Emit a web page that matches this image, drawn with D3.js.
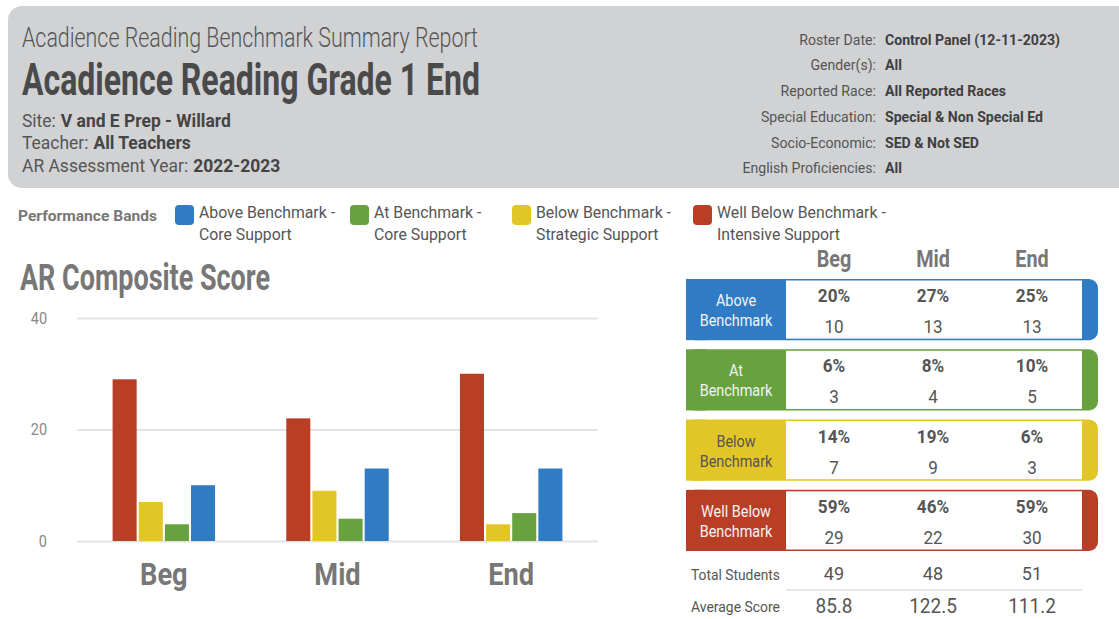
<!DOCTYPE html>
<html>
<head>
<meta charset="utf-8">
<script src="https://cdn.jsdelivr.net/npm/d3@7"></script>
<style>
  body { margin: 0; background: #fff; }
  svg { display: block; font-family: Roboto, "Noto Sans", sans-serif; }
</style>
</head>
<body>
<svg id="report" width="1119" height="619"></svg>
<script>
// --- data ---
const periods = ["Beg", "Mid", "End"];
const bandKeys = ["wellBelow", "below", "at", "above"];      // bar order inside a group
const bandColors = { wellBelow: "#b83f26", below: "#e2c628", at: "#67a23e", above: "#2f7cc4" };

const wellBelowCounts = [29, 22, 30];
const belowCounts = [7, 9, 3];
const atCounts = [3, 4, 5];
const aboveCounts = [10, 13, 13];

const wellBelowPct = ["59%", "46%", "59%"];
const belowPct = ["14%", "19%", "6%"];
const atPct = ["6%", "8%", "10%"];
const abovePct = ["20%", "27%", "25%"];

const totalStudents = ["49", "48", "51"];
const averageScore = ["85.8", "122.5", "111.2"];
const yTicks = [0, 20, 40];

const legendKeys = ["above", "at", "below", "wellBelow"];
const legendNames = [
  ["Above Benchmark -", "Core Support"],
  ["At Benchmark -", "Core Support"],
  ["Below Benchmark -", "Strategic Support"],
  ["Well Below Benchmark -", "Intensive Support"]
];
const tableKeys = ["above", "at", "below", "wellBelow"];
const tableNames = [["Above", "Benchmark"], ["At", "Benchmark"], ["Below", "Benchmark"], ["Well Below", "Benchmark"]];

const metaLabels = ["Roster Date:", "Gender(s):", "Reported Race:", "Special Education:", "Socio-Economic:", "English Proficiencies:"];
const metaValues = ["Control Panel (12-11-2023)", "All", "All Reported Races", "Special & Non Special Ed", "SED & Not SED", "All"];

const counts = { wellBelow: wellBelowCounts, below: belowCounts, at: atCounts, above: aboveCounts };
const pcts = { wellBelow: wellBelowPct, below: belowPct, at: atPct, above: abovePct };

const svg = d3.select("#report");

// text helper: Roboto squeezed a bit to look like the condensed face of the report
function txt(g, x, y, s, o) {
  const t = g.append("text")
    .attr("x", x).attr("y", y).text(s)
    .attr("font-size", o.size)
    .attr("font-weight", o.weight || 400)
    .attr("fill", o.fill || "#555")
    .attr("text-anchor", o.anchor || "start");
  const w = o.len || t.node().getComputedTextLength() * (o.k || 0.86);
  t.attr("textLength", w).attr("lengthAdjust", "spacingAndGlyphs");
  return w;
}

// --- header panel ---
svg.append("rect")
  .attr("x", 8).attr("y", 6).attr("width", 1140).attr("height", 182)
  .attr("rx", 14).attr("fill", "#d1d2d4");

txt(svg, 22, 47, "Acadience Reading Benchmark Summary Report", { size: 27, weight: 300, len: 456, fill: "#555" });
txt(svg, 22, 95, "Acadience Reading Grade 1 End", { size: 44, weight: 700, len: 458, fill: "#4a4a4a" });

const siteLines = [["Site:", "V and E Prep - Willard", 127], ["Teacher:", "All Teachers", 149], ["AR Assessment Year:", "2022-2023", 172]];
siteLines.forEach(([lab, val, yy]) => {
  const w = txt(svg, 22, yy, lab, { size: 18, fill: "#555", k: 0.97 });
  txt(svg, 22 + w + 5, yy, val, { size: 18, weight: 700, fill: "#444", k: 0.97 });
});

const metaY = [45, 70, 96, 122, 148, 173];
metaLabels.forEach((m, i) => {
  txt(svg, 876, metaY[i], m, { size: 15, anchor: "end", fill: "#555", k: 0.94 });
  txt(svg, 885, metaY[i], metaValues[i], { size: 15, weight: 700, fill: "#3f3f3f", k: 0.94 });
});

// --- legend ---
txt(svg, 18, 221, "Performance Bands", { size: 14, weight: 700, fill: "#777", len: 139 });
const legendX = [175, 350, 512, 693];
legendKeys.forEach((k, i) => {
  svg.append("rect")
    .attr("x", legendX[i]).attr("y", 205).attr("width", 19).attr("height", 20)
    .attr("rx", 4).attr("fill", bandColors[k]);
  txt(svg, legendX[i] + 24, 218, legendNames[i][0], { size: 17, fill: "#555", k: 0.93 });
  txt(svg, legendX[i] + 24, 240, legendNames[i][1], { size: 17, fill: "#555", k: 0.93 });
});

// --- bar chart ---
txt(svg, 20, 290, "AR Composite Score", { size: 36, weight: 700, fill: "#777", len: 250 });

const y = d3.scaleLinear().domain([0, 40]).range([541, 318]);
const x0 = d3.scaleBand().domain(periods).range([77, 598]).paddingInner(0.41).paddingOuter(0.205);
const x1 = d3.scaleBand().domain(bandKeys).range([0, x0.bandwidth()]).paddingInner(0.08);

const yAxis = svg.append("g")
  .attr("transform", "translate(77,0)")
  .call(d3.axisLeft(y).tickValues(yTicks).tickSize(-(598 - 77)).tickPadding(30));
yAxis.select(".domain").remove();
yAxis.selectAll(".tick line").attr("stroke", "#e3e3e3").attr("stroke-width", 2);
yAxis.selectAll(".tick text")
  .attr("font-size", 17).attr("fill", "#888").attr("font-family", "Roboto")
  .each(function () {
    this.setAttribute("textLength", this.getComputedTextLength() * 0.85);
    this.setAttribute("lengthAdjust", "spacingAndGlyphs");
  });

const barData = [];
periods.forEach((p, i) => bandKeys.forEach(k => barData.push({ period: p, key: k, value: counts[k][i] })));

svg.append("g").selectAll("rect")
  .data(barData)
  .join("rect")
  .attr("x", d => x0(d.period) + x1(d.key))
  .attr("y", d => y(d.value))
  .attr("width", x1.bandwidth())
  .attr("height", d => y(0) - y(d.value))
  .attr("fill", d => bandColors[d.key]);

const xAxis = svg.append("g")
  .attr("transform", "translate(0,541)")
  .call(d3.axisBottom(x0).tickSize(0).tickPadding(21));
xAxis.select(".domain").remove();
xAxis.selectAll(".tick text")
  .attr("font-size", 32).attr("font-weight", 700).attr("fill", "#777").attr("font-family", "Roboto")
  .each(function () {
    this.setAttribute("textLength", this.getComputedTextLength() * 0.85);
    this.setAttribute("lengthAdjust", "spacingAndGlyphs");
  });

// --- summary table ---
const rowY = d3.scaleBand().domain(tableKeys).range([279, 551]).paddingInner(0.13);
const colX = d3.scalePoint().domain(periods).range([834, 1032]);

periods.forEach(p => txt(svg, colX(p), 267, p, { size: 23, weight: 700, fill: "#777", anchor: "middle" }));

tableKeys.forEach((k, r) => {
  const top = rowY(k), h = rowY.bandwidth();
  const row = svg.append("g");
  row.append("rect").attr("x", 686).attr("y", top).attr("width", 412).attr("height", h)
    .attr("rx", 9).attr("fill", bandColors[k]);
  row.append("rect").attr("x", 686).attr("y", top).attr("width", 20).attr("height", h)
    .attr("fill", bandColors[k]);
  row.append("rect").attr("x", 786).attr("y", top + 1.5).attr("width", 296).attr("height", h - 3)
    .attr("fill", "#fff");
  const labFill = k === "below" ? "#555" : "#f3f3f3";
  txt(row, 736, top + 27, tableNames[r][0], { size: 16, fill: labFill, anchor: "middle", k: 0.9 });
  txt(row, 736, top + 47, tableNames[r][1], { size: 16, fill: labFill, anchor: "middle", k: 0.9 });
  periods.forEach((p, i) => {
    txt(row, colX(p), top + 23, pcts[k][i], { size: 18, weight: 700, fill: "#555", anchor: "middle", k: 0.95 });
    txt(row, colX(p), top + 54, counts[k][i], { size: 18, fill: "#555", anchor: "middle", k: 0.95 });
  });
});

txt(svg, 691, 580, "Total Students", { size: 14, fill: "#555", len: 89 });
periods.forEach((p, i) => txt(svg, colX(p), 580, totalStudents[i], { size: 19, fill: "#555", anchor: "middle", k: 0.95 }));
svg.append("line").attr("x1", 786).attr("x2", 1082).attr("y1", 590).attr("y2", 590)
  .attr("stroke", "#dedede").attr("stroke-width", 1.5);
txt(svg, 691, 612, "Average Score", { size: 14, fill: "#555", len: 89 });
periods.forEach((p, i) => txt(svg, colX(p), 613, averageScore[i], { size: 20, fill: "#555", anchor: "middle", k: 0.95 }));
</script>
</body>
</html>
